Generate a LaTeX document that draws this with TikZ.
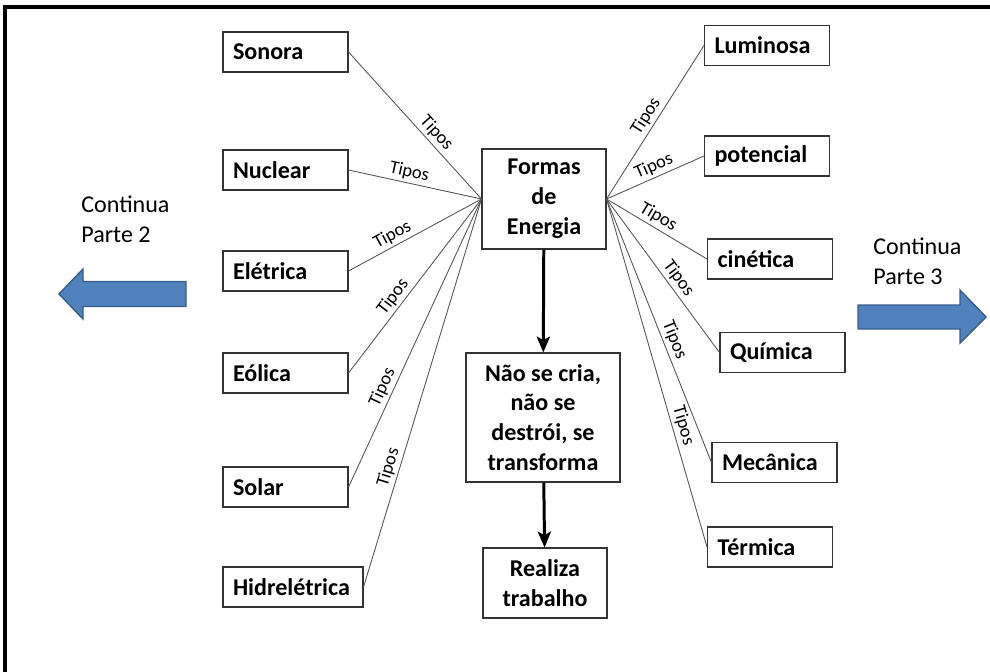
\documentclass[tikz,border=0pt]{standalone}
\usepackage{fontspec}
\setmainfont{Carlito}
\usepackage{tikz}
\usetikzlibrary{positioning,arrows.meta}
\definecolor{ArrowBlue}{RGB}{79,129,189}
\definecolor{ArrowEdge}{RGB}{56,93,138}
\definecolor{LineGray}{RGB}{85,85,85}
\tikzset{
  kind/.style={draw=black!80,line width=0.6pt,fill=white,inner xsep=0.2cm,inner ysep=0pt,
    text width=2.1cm,minimum height=0.8cm,align=left,font={\fontsize{13.7pt}{17pt}\selectfont\bfseries}},
  core/.style={draw=black!80,line width=0.6pt,fill=white,inner sep=0pt,align=center,
    font={\fontsize{13.7pt}{17pt}\selectfont\bfseries}},
  tline/.style={draw=LineGray,line width=0.5pt},
  tipo/.style={sloped,above,inner sep=1.5pt,font={\fontsize{10.5pt}{12pt}\selectfont}},
  flow/.style={draw=black,line width=1.7pt,-{Stealth[length=9pt,width=7.5pt,inset=2pt]}},
  note/.style={anchor=north west,inner sep=0pt,align=left,font={\fontsize{13.7pt}{17pt}\selectfont}},
  bigarrow/.style={fill=ArrowBlue,draw=ArrowEdge,line width=0.8pt,line join=miter},
}

\begin{document}
\begin{tikzpicture}[x=0.02cm,y=-0.02cm]
\useasboundingbox (0,0) rectangle (990,672);
\draw[line width=2pt] (5,7) rectangle (1020,700);
% centre
\node[core,minimum width=2.48cm,minimum height=2cm](formas) at (544,199){Formas\\de\\Energia};
\node[core,minimum width=3.08cm,minimum height=2.58cm](naose) at (543,417.5){Não se cria,\\não se\\destrói, se\\transforma};
\node[core,minimum width=2.48cm,minimum height=1.4cm](realiza) at (545,583){Realiza\\trabalho};
\draw[flow] (formas) -- (naose);\draw[flow] (naose) -- (realiza);
% left side
\node[kind](sonora) at (285.5,52){Sonora};\node[kind](nuclear) at (285.5,170){Nuclear};
\node[kind](eletrica) at (285.5,271){Elétrica};\node[kind](eolica) at (285.5,373){Eólica};
\node[kind](solar) at (285.5,487){Solar};\node[kind,text width=2.4cm](hidro) at (293,587){Hidrelétrica};
\draw[tline] (sonora.east) -- node[tipo,pos=0.6]{Tipos} (formas.west);
\draw[tline] (nuclear.east) -- node[tipo,pos=0.44]{Tipos} (formas.west);
\draw[tline] (eletrica.east) -- node[tipo,pos=0.37]{Tipos} (formas.west);
\draw[tline] (eolica.east) -- node[tipo,pos=0.4]{Tipos} (formas.west);
\draw[tline] (solar.east) -- node[tipo,pos=0.33]{Tipos} (formas.west);
\draw[tline] (hidro.east) -- node[tipo,pos=0.3]{Tipos} (formas.west);
% right side
\node[kind](luminosa) at (767,45.5){Luminosa};\node[kind](potencial) at (767,156){potencial};
\node[kind](cinetica) at (770,259){cinética};\node[kind](quimica) at (782.5,352.5){Química};
\node[kind](mecanica) at (774.5,462.5){Mecânica};\node[kind](termica) at (770,547){Térmica};
\draw[tline] (formas.east) -- node[tipo,pos=0.5]{Tipos} (luminosa.west);
\draw[tline] (formas.east) -- node[tipo,pos=0.53]{Tipos} (potencial.west);
\draw[tline] (formas.east) -- node[tipo,pos=0.46]{Tipos} (cinetica.west);
\draw[tline] (formas.east) -- node[tipo,pos=0.56]{Tipos} (quimica.west);
\draw[tline] (formas.east) -- node[tipo,pos=0.55]{Tipos} (mecanica.west);
\draw[tline] (formas.east) -- node[tipo,pos=0.66]{Tipos} (termica.west);
% continuation arrows
\node[note](parte2) at (81,196){Continua\\Parte 2};
\node[note](parte3) at (873,238){Continua\\Parte 3};
\draw[bigarrow] (186,281.5) -- (83,281.5) -- (83,269) -- (59,294) -- (83,319) -- (83,306.5) -- (186,306.5) -- cycle;
\draw[bigarrow] (858,305) -- (960,305) -- (960,290) -- (986,317) -- (960,343) -- (960,329) -- (858,329) -- cycle;
\end{tikzpicture}
\end{document}
